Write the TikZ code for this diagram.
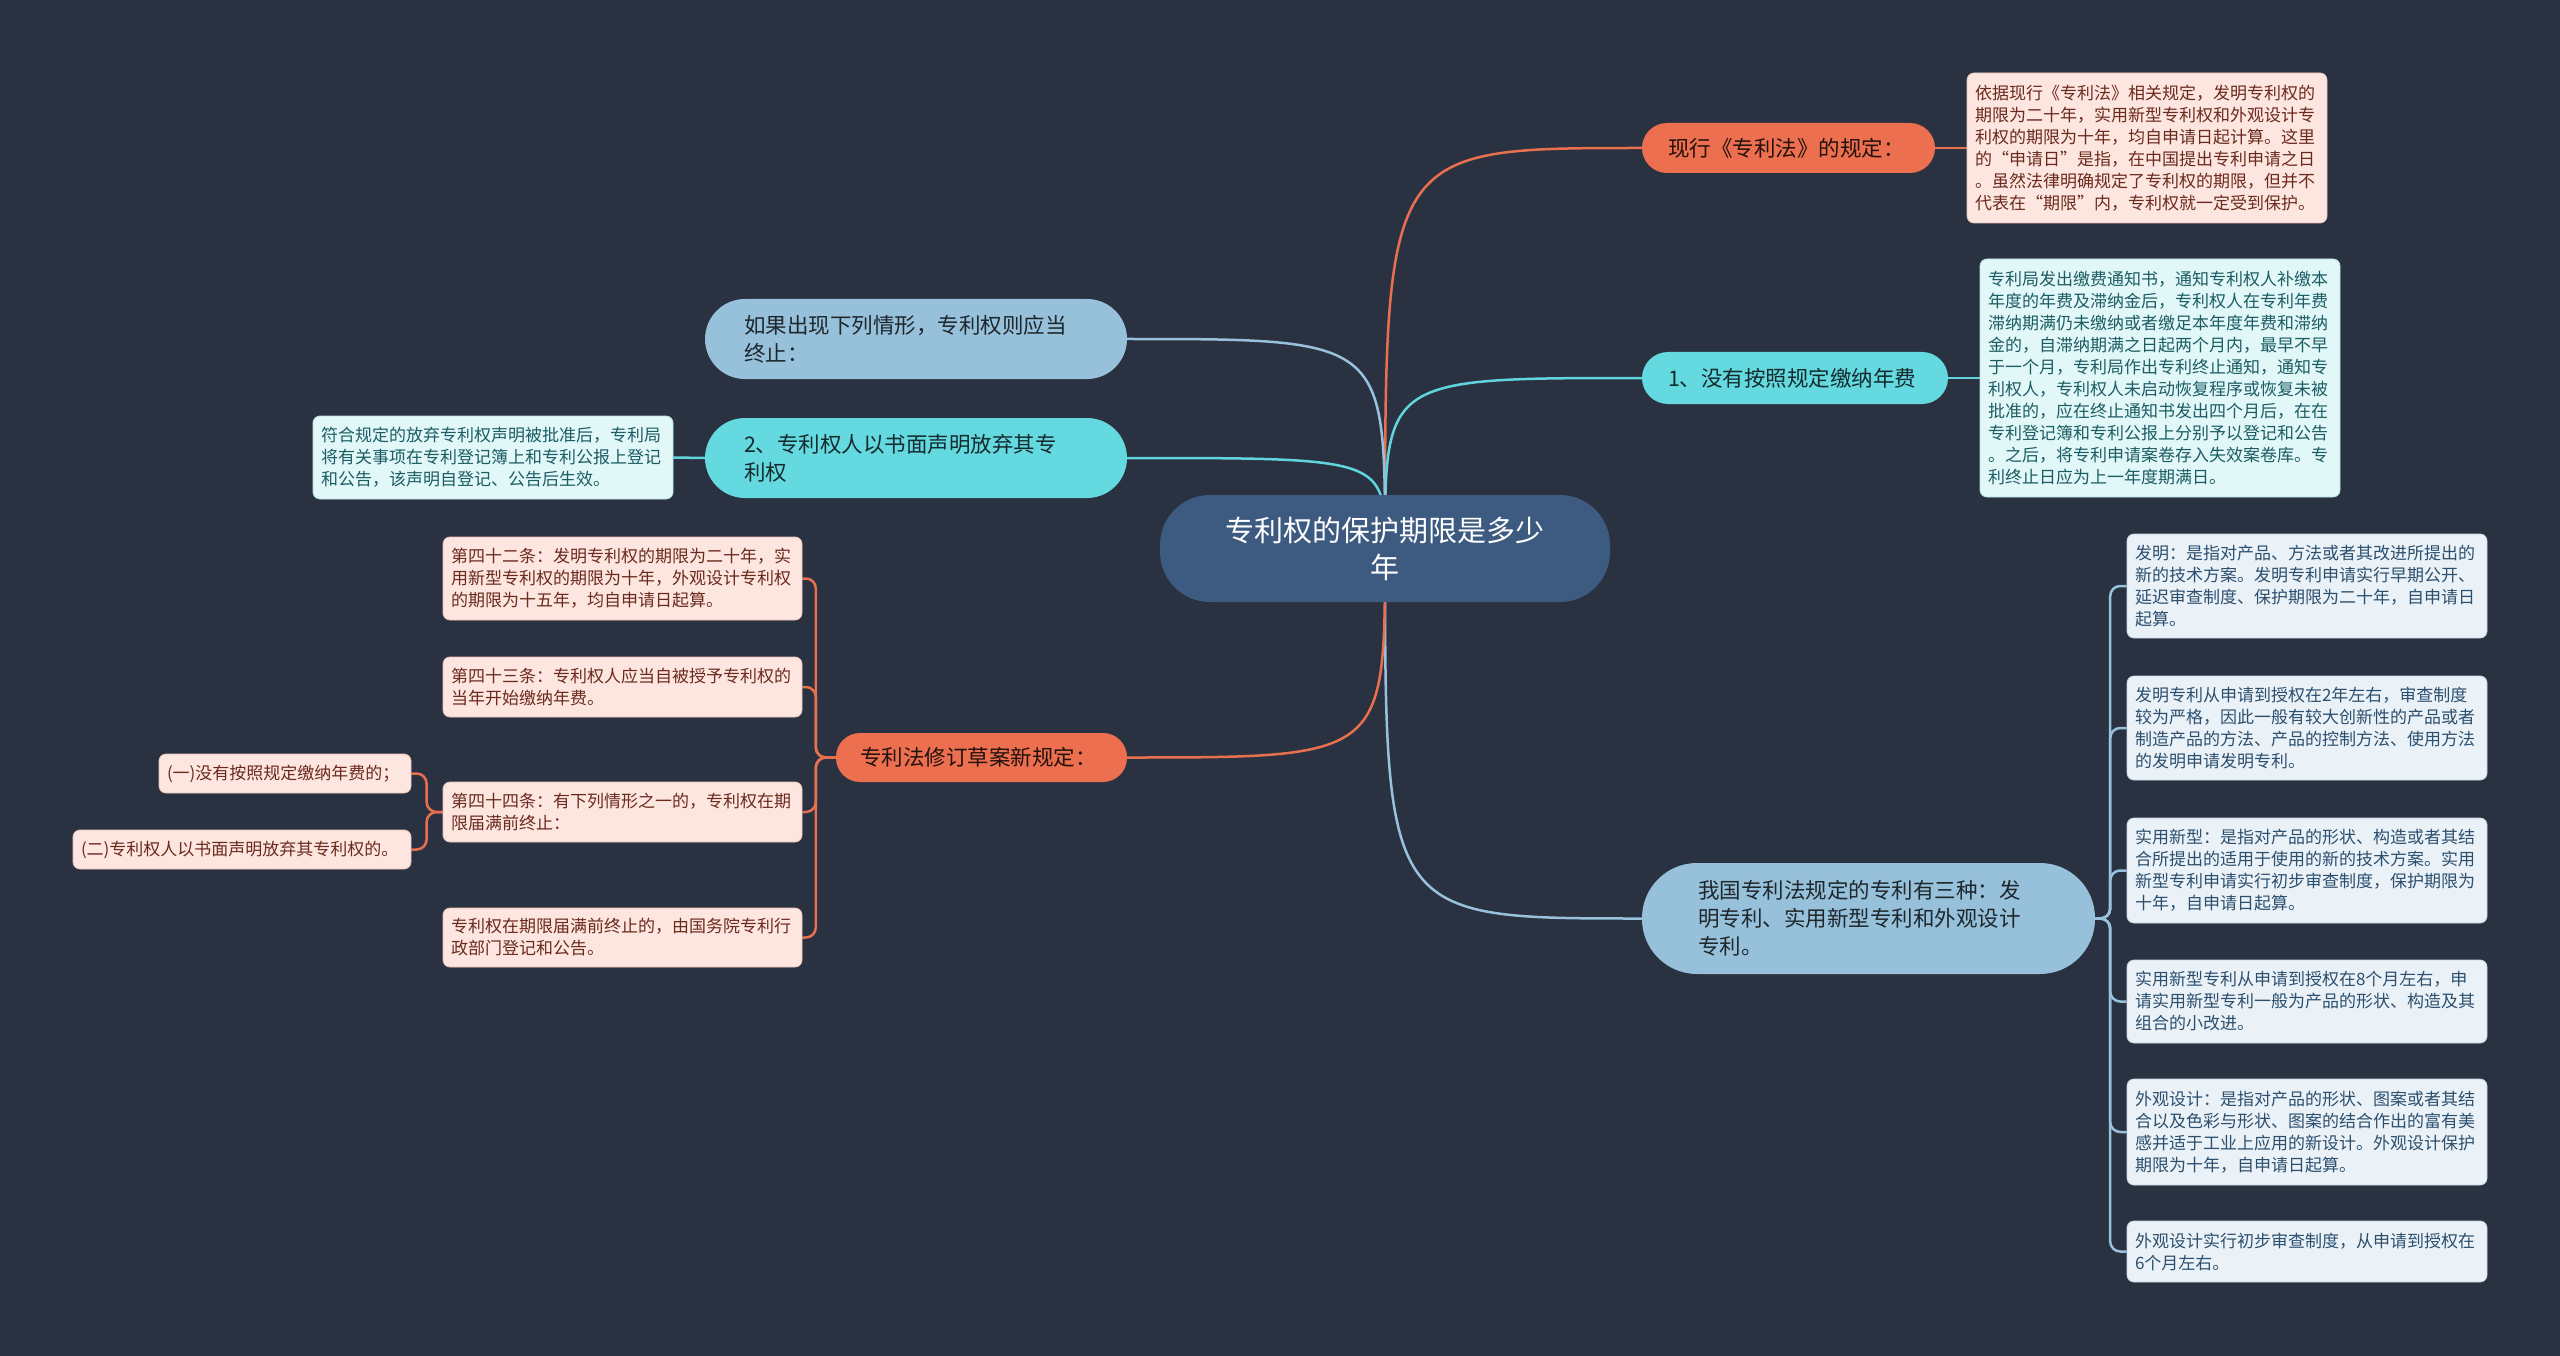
\documentclass[tikz,border=0pt]{standalone}
\usepackage{fontspec}
\newfontfamily\cjk{Noto Sans CJK SC}
\definecolor{bg}{HTML}{2A3241}
\definecolor{rootF}{HTML}{3D5A80}
\definecolor{orF}{HTML}{EC6F50}
\definecolor{cyF}{HTML}{64D9E0}
\definecolor{blF}{HTML}{97C0DA}
\definecolor{pkF}{HTML}{FDE6DF}
\definecolor{pkT}{HTML}{6B2A1E}
\definecolor{pkD}{HTML}{E9C3B8}
\definecolor{ckF}{HTML}{E1F7F8}
\definecolor{ckT}{HTML}{1C5D63}
\definecolor{ckD}{HTML}{B8E4E8}
\definecolor{bkF}{HTML}{EAF2F8}
\definecolor{bkT}{HTML}{2C4F6E}
\definecolor{bkD}{HTML}{C3D6E6}
\definecolor{orL}{HTML}{E8704F}
\definecolor{cyL}{HTML}{60D5DD}
\definecolor{blL}{HTML}{97C1DC}
\pgfdeclarelayer{background}
\pgfsetlayers{background,main}
\begin{document}
\begin{tikzpicture}[x=1pt,y=-1pt,
  leaf/.style={rounded corners=7pt, inner xsep=8pt, inner ysep=0pt, align=left, line width=0.8pt,
    font=\cjk\fontsize{17}{22}\selectfont},
  pkleaf/.style={leaf, fill=pkF, draw=pkD, text=pkT},
  ckleaf/.style={leaf, fill=ckF, draw=ckD, text=ckT},
  bkleaf/.style={leaf, fill=bkF, draw=bkD, text=bkT},
  topic/.style={inner ysep=0pt, align=left, draw=none, font=\cjk\fontsize{21.5}{28}\selectfont},
  ortopic/.style={topic, fill=orF, text=black!85!orF},
  cytopic/.style={topic, fill=cyF, text=black!80!cyF},
  bltopic/.style={topic, fill=blF, text=black!80!blF},
  oline/.style={draw=orL, line width=2.5pt},
  cline/.style={draw=cyL, line width=2.5pt},
  bline/.style={draw=blL, line width=2.5pt}
]
\useasboundingbox (0,0) rectangle (2560,1356);
\begin{pgfonlayer}{background}
\fill[bg] (0,0) rectangle (2560,1356);
\end{pgfonlayer}

% root
\node[fill=rootF, rounded corners=50pt, minimum width=450pt, minimum height=107pt, inner sep=0pt,
  text width=420pt, align=center, text=white, font=\cjk\fontsize{29}{37}\selectfont]
  (root) at (1385,548.5) {专利权的保护期限是多少\\年};

% right topics
\node[ortopic, rounded corners=25pt, minimum width=293pt, minimum height=50pt, inner xsep=26pt, text width=241pt]
  (n1) at (1788.5,148) {现行《专利法》的规定：};
\node[cytopic, rounded corners=26pt, minimum width=306pt, minimum height=52pt, inner xsep=26pt, text width=254pt]
  (n2) at (1795,378) {1、没有按照规定缴纳年费};
\node[bltopic, rounded corners=55pt, minimum width=453pt, minimum height=111pt, inner xsep=56pt, text width=341pt]
  (n3) at (1868.5,918.5) {我国专利法规定的专利有三种：发\\明专利、实用新型专利和外观设计\\专利。};

% left topics
\node[bltopic, rounded corners=40pt, minimum width=422pt, minimum height=80pt, inner xsep=39pt, text width=344pt]
  (n4) at (916,339) {如果出现下列情形，专利权则应当\\终止：};
\node[cytopic, rounded corners=40pt, minimum width=422pt, minimum height=80pt, inner xsep=39pt, text width=344pt]
  (n5) at (916,458) {2、专利权人以书面声明放弃其专\\利权};
\node[ortopic, rounded corners=24pt, minimum width=291pt, minimum height=49pt, inner xsep=24pt, text width=243pt]
  (n6) at (981.5,757.5) {专利法修订草案新规定：};

% leaves of right topics
\node[pkleaf, minimum width=360pt, minimum height=150pt, text width=344pt] (l1) at (2147,148)
 {依据现行《专利法》相关规定，发明专利权的\\期限为二十年，实用新型专利权和外观设计专\\利权的期限为十年，均自申请日起计算。这里\\的“申请日”是指，在中国提出专利申请之日\\。虽然法律明确规定了专利权的期限，但并不\\代表在“期限”内，专利权就一定受到保护。};
\node[ckleaf, minimum width=360pt, minimum height=238pt, text width=344pt] (l2) at (2160,378)
 {专利局发出缴费通知书，通知专利权人补缴本\\年度的年费及滞纳金后，专利权人在专利年费\\滞纳期满仍未缴纳或者缴足本年度年费和滞纳\\金的，自滞纳期满之日起两个月内，最早不早\\于一个月，专利局作出专利终止通知，通知专\\利权人，专利权人未启动恢复程序或恢复未被\\批准的，应在终止通知书发出四个月后，在在\\专利登记簿和专利公报上分别予以登记和公告\\。之后，将专利申请案卷存入失效案卷库。专\\利终止日应为上一年度期满日。};

\node[bkleaf, minimum width=360pt, minimum height=104pt, text width=344pt] (ra) at (2307,586)
 {发明：是指对产品、方法或者其改进所提出的\\新的技术方案。发明专利申请实行早期公开、\\延迟审查制度、保护期限为二十年，自申请日\\起算。};
\node[bkleaf, minimum width=360pt, minimum height=104pt, text width=344pt] (rb) at (2307,728)
 {发明专利从申请到授权在2年左右，审查制度\\较为严格，因此一般有较大创新性的产品或者\\制造产品的方法、产品的控制方法、使用方法\\的发明申请发明专利。};
\node[bkleaf, minimum width=360pt, minimum height=105pt, text width=344pt] (rc) at (2307,870.5)
 {实用新型：是指对产品的形状、构造或者其结\\合所提出的适用于使用的新的技术方案。实用\\新型专利申请实行初步审查制度，保护期限为\\十年，自申请日起算。};
\node[bkleaf, minimum width=360pt, minimum height=83pt, text width=344pt] (rd) at (2307,1001.5)
 {实用新型专利从申请到授权在8个月左右，申\\请实用新型专利一般为产品的形状、构造及其\\组合的小改进。};
\node[bkleaf, minimum width=360pt, minimum height=106pt, text width=344pt] (re) at (2307,1132)
 {外观设计：是指对产品的形状、图案或者其结\\合以及色彩与形状、图案的结合作出的富有美\\感并适于工业上应用的新设计。外观设计保护\\期限为十年，自申请日起算。};
\node[bkleaf, minimum width=360pt, minimum height=61pt, text width=344pt] (rf) at (2307,1251.5)
 {外观设计实行初步审查制度，从申请到授权在\\6个月左右。};

% leaves of left topics
\node[ckleaf, minimum width=360pt, minimum height=83pt, text width=344pt] (l5) at (493,457.5)
 {符合规定的放弃专利权声明被批准后，专利局\\将有关事项在专利登记簿上和专利公报上登记\\和公告，该声明自登记、公告后生效。};

\node[pkleaf, minimum width=359pt, minimum height=83pt, text width=343pt] (la) at (622.5,578.5)
 {第四十二条：发明专利权的期限为二十年，实\\用新型专利权的期限为十年，外观设计专利权\\的期限为十五年，均自申请日起算。};
\node[pkleaf, minimum width=359pt, minimum height=60pt, text width=343pt] (lb) at (622.5,687)
 {第四十三条：专利权人应当自被授予专利权的\\当年开始缴纳年费。};
\node[pkleaf, minimum width=359pt, minimum height=60pt, text width=343pt] (lc) at (622.5,812)
 {第四十四条：有下列情形之一的，专利权在期\\限届满前终止：};
\node[pkleaf, minimum width=359pt, minimum height=59pt, text width=343pt] (ld) at (622.5,937.5)
 {专利权在期限届满前终止的，由国务院专利行\\政部门登记和公告。};
\node[pkleaf, minimum width=252pt, minimum height=39pt, text width=236pt] (lc1) at (285,773.5)
 {(一)没有按照规定缴纳年费的；};
\node[pkleaf, minimum width=338pt, minimum height=39pt, text width=322pt] (lc2) at (242,849.5)
 {(二)专利权人以书面声明放弃其专利权的。};

\begin{pgfonlayer}{background}
% root to topics
\draw[oline] (root.center) .. controls (root.center |- n1.west) .. (n1.west);
\draw[cline] (root.center) .. controls (root.center |- n2.west) .. (n2.west);
\draw[bline] (root.center) .. controls (root.center |- n3.west) .. (n3.west);
\draw[bline] (root.center) .. controls (root.center |- n4.east) .. (n4.east);
\draw[cline] (root.center) .. controls (root.center |- n5.east) .. (n5.east);
\draw[oline] (root.center) .. controls (root.center |- n6.east) .. (n6.east);
% topics to leaves
\draw[oline] (n1.east) -- (l1.west);
\draw[cline] (n2.east) -- (l2.west);
\draw[cline] (n5.west) -- (l5.east);
\foreach \r in {ra,rb,rc,rd,re,rf}
  \draw[bline, rounded corners=10pt] (n3.east) -- ++(15,0) |- (\r.west);
\foreach \l in {la,lb,lc,ld}
  \draw[oline, rounded corners=10pt] (n6.west) -- ++(-20,0) |- (\l.east);
\foreach \l in {lc1,lc2}
  \draw[oline, rounded corners=10pt] (lc.west) -- ++(-16,0) |- (\l.east);
\end{pgfonlayer}
\end{tikzpicture}
\end{document}
